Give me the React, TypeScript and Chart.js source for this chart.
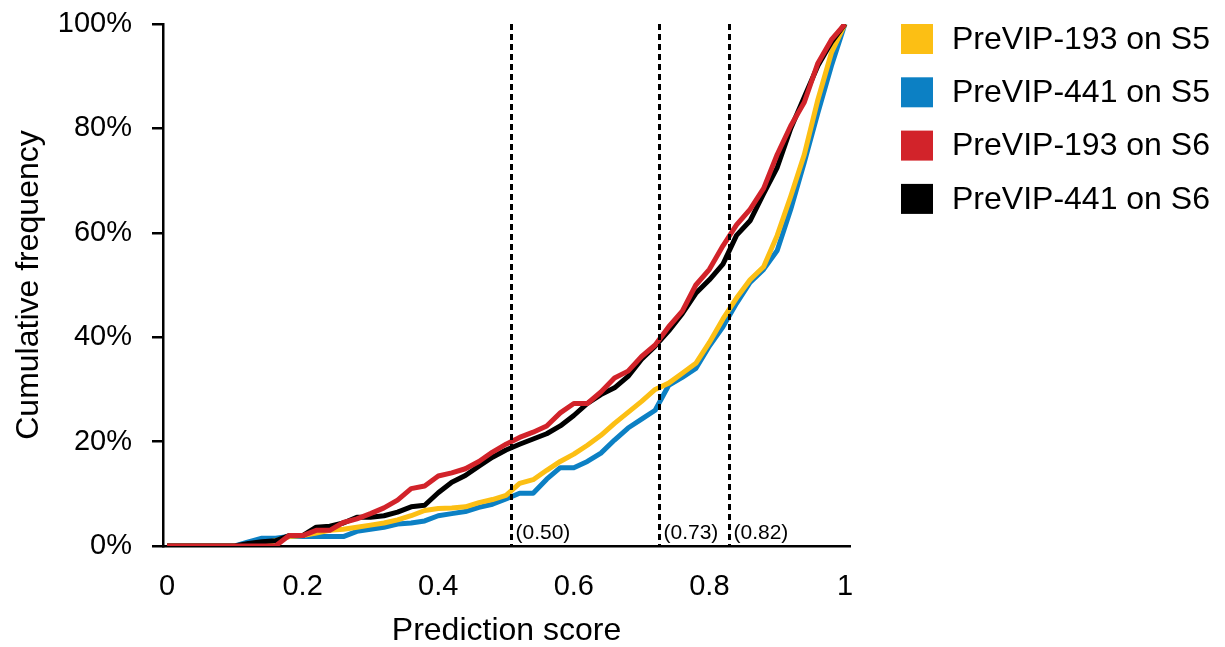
import { useEffect, useRef } from "react";
import { Chart, registerables } from "chart.js";

Chart.register(...registerables);

const FONT = '"Liberation Sans", Arial, Helvetica, sans-serif';

// Prediction score (x)
const SCORES = [
  0, 0.02, 0.04, 0.06, 0.08, 0.1, 0.12, 0.14, 0.16, 0.18, 0.2, 0.22, 0.24, 0.26, 0.28, 0.3, 0.32,
  0.34, 0.36, 0.38, 0.4, 0.42, 0.44, 0.46, 0.48, 0.5, 0.52, 0.54, 0.56, 0.58, 0.6, 0.62, 0.64, 0.66,
  0.68, 0.7, 0.72, 0.74, 0.76, 0.78, 0.8, 0.82, 0.84, 0.86, 0.88, 0.9, 0.92, 0.94, 0.96, 0.98, 1,
];

// Cumulative frequency (%)
const PREVIP193_S5 = [
  0, 0, 0, 0, 0, 0, 0, 0.5, 1, 1.8, 2, 2.5, 3, 3.2, 3.6, 4, 4.4, 5, 5.8, 6.8, 7.2, 7.3, 7.5, 8.3, 8.9,
  9.7, 12, 12.7, 14.5, 16.2, 17.6, 19.3, 21.2, 23.5, 25.6, 27.7, 30, 31.2, 33.1, 35, 39, 43.5, 47.5,
  51, 53.5, 59.5, 67, 75, 85.5, 94.5, 100,
];
const PREVIP441_S5 = [
  0, 0, 0, 0, 0, 0, 0.8, 1.5, 1.5, 1.8, 1.8, 1.8, 1.8, 1.8, 2.8, 3.2, 3.6, 4.2, 4.4, 4.8, 5.8, 6.2,
  6.6, 7.4, 8, 9, 10.1, 10.1, 12.8, 15, 15, 16.2, 17.8, 20.3, 22.6, 24.3, 26, 30.8, 32.3, 34, 38.3,
  42, 46.5, 50.5, 53, 56.6, 64.5, 73.5, 83, 92, 100,
];
const PREVIP193_S6 = [
  0, 0, 0, 0, 0, 0, 0, 0, 0, 2, 2, 3, 3, 4.5, 5.2, 6.2, 7.3, 8.8, 11, 11.5, 13.4, 14, 14.8, 16.2, 18,
  19.5, 20.8, 21.8, 23, 25.5, 27.3, 27.3, 29.5, 32.2, 33.5, 36.3, 38.5, 42, 45, 50, 53, 57.5, 61.5,
  64.5, 68.5, 75, 80.5, 85, 92.5, 97, 100,
];
const PREVIP441_S6 = [
  0, 0, 0, 0, 0, 0, 0.5, 0.8, 1, 2, 2, 3.6, 3.8, 4.4, 5.5, 5.5, 5.8, 6.5, 7.5, 7.8, 10.2, 12.2, 13.5,
  15.3, 17, 18.4, 19.5, 20.5, 21.5, 23, 25, 27.3, 29, 30.3, 32.5, 35.8, 38.3, 41.2, 44.5, 48.4, 51,
  54, 59.5, 62.3, 67.5, 72.5, 80, 86, 92, 96.5, 100,
];

const SERIES_LABELS = ["PreVIP-193 on S5", "PreVIP-441 on S5", "PreVIP-193 on S6", "PreVIP-441 on S6"];
const SERIES_VALUES = [PREVIP193_S5, PREVIP441_S5, PREVIP193_S6, PREVIP441_S6];
const SERIES_COLORS = ["#FCBF14", "#0C80C4", "#D2232A", "#000000"];
const SERIES_ORDER = [2, 3, 0, 1]; // red on top, then black, yellow, blue

const THRESHOLDS = [0.507, 0.726, 0.829];
const THRESHOLD_LABELS = ["(0.50)", "(0.73)", "(0.82)"];

const X_TICKS = [0, 0.2, 0.4, 0.6, 0.8, 1];
const Y_TICKS = [0, 20, 40, 60, 80, 100];

const thresholdPlugin = {
  id: "thresholds",
  afterDatasetsDraw(chart: any) {
    const { ctx, chartArea, scales } = chart;
    const xs = scales.x;
    ctx.save();
    THRESHOLDS.forEach((t, i) => {
      const px = Math.round(xs.getPixelForValue(t)) + 0.5;
      ctx.strokeStyle = "#000";
      ctx.lineWidth = 3;
      ctx.setLineDash([6, 4]);
      ctx.beginPath();
      ctx.moveTo(px, chartArea.top);
      ctx.lineTo(px, chartArea.bottom);
      ctx.stroke();
      ctx.setLineDash([]);
      ctx.fillStyle = "#000";
      ctx.font = `21px ${FONT}`;
      ctx.textAlign = "left";
      ctx.textBaseline = "alphabetic";
      ctx.fillText(THRESHOLD_LABELS[i], px + 4, chartArea.bottom - 7);
    });
    ctx.restore();
  },
};

const legendPlugin = {
  id: "sideLegend",
  afterDraw(chart: any) {
    const { ctx, chartArea } = chart;
    const x0 = chartArea.right + 51;
    ctx.save();
    chart.data.datasets.forEach((ds: any, i: number) => {
      const y = 24 + i * 53.3;
      ctx.fillStyle = ds.borderColor;
      ctx.fillRect(x0, y, 32, 30);
      ctx.fillStyle = "#000";
      ctx.font = `32px ${FONT}`;
      ctx.textAlign = "left";
      ctx.textBaseline = "middle";
      ctx.fillText(ds.label, x0 + 51, y + 16);
    });
    ctx.restore();
  },
};

export default function App() {
  const ref = useRef<HTMLCanvasElement | null>(null);

  useEffect(() => {
    if (!ref.current) return;
    const chart = new Chart(ref.current, {
      type: "line",
      data: {
        datasets: SERIES_LABELS.map((label, i) => ({
          label,
          data: SCORES.map((x, j) => ({ x, y: SERIES_VALUES[i][j] })),
          borderColor: SERIES_COLORS[i],
          backgroundColor: SERIES_COLORS[i],
          borderWidth: 5,
          pointRadius: 0,
          tension: 0,
          fill: false,
          order: SERIES_ORDER[i],
          borderJoinStyle: "round" as const,
        })),
      },
      options: {
        responsive: false,
        animation: false,
        devicePixelRatio: 1,
        layout: { padding: { left: 0, top: 24, right: 375, bottom: 0 } },
        plugins: {
          legend: { display: false },
          tooltip: { enabled: false },
        },
        scales: {
          x: {
            type: "linear",
            min: -0.006,
            max: 1.0074,
            afterBuildTicks: (axis: any) => {
              axis.ticks = X_TICKS.map((value) => ({ value }));
            },
            afterFit: (s: any) => {
              s.height = 101;
              s.paddingLeft = 0;
              s.paddingRight = 0;
            },
            ticks: {
              autoSkip: false,
              maxRotation: 0,
              padding: 24,
              color: "#000",
              font: { family: FONT, size: 29 },
              callback: (v: any) => (v === 0 ? "0" : v === 1 ? "1" : Number(v).toFixed(1)),
            },
            grid: { drawOnChartArea: false, drawTicks: false },
            border: { display: true, color: "#000", width: 2.5 },
            title: {
              display: true,
              text: "Prediction score",
              color: "#000",
              font: { family: FONT, size: 32, lineHeight: 1 },
              padding: { top: 0, bottom: 0 },
            },
          },
          y: {
            type: "linear",
            min: 0,
            max: 100,
            afterBuildTicks: (axis: any) => {
              axis.ticks = Y_TICKS.map((value) => ({ value }));
            },
            afterFit: (s: any) => {
              s.width = 163;
              s.paddingTop = 0;
              s.paddingBottom = 0;
            },
            ticks: {
              padding: 20,
              color: "#000",
              font: { family: FONT, size: 29 },
              callback: (v: any) => `${v}%`,
            },
            grid: {
              drawOnChartArea: false,
              drawTicks: true,
              tickLength: 11,
              color: "#000",
              lineWidth: 2.5,
            },
            border: { display: true, color: "#000", width: 2.5 },
            title: {
              display: true,
              text: "Cumulative frequency",
              color: "#000",
              font: { family: FONT, size: 32, lineHeight: 1 },
              padding: { top: 13, bottom: 0 },
            },
          },
        },
      },
      plugins: [thresholdPlugin, legendPlugin],
    });
    return () => chart.destroy();
  }, []);

  return (
    <div style={{ position: "absolute", left: 0, top: 0, width: 1225, height: 647, background: "#fff" }}>
      <canvas ref={ref} width={1225} height={647} />
    </div>
  );
}
